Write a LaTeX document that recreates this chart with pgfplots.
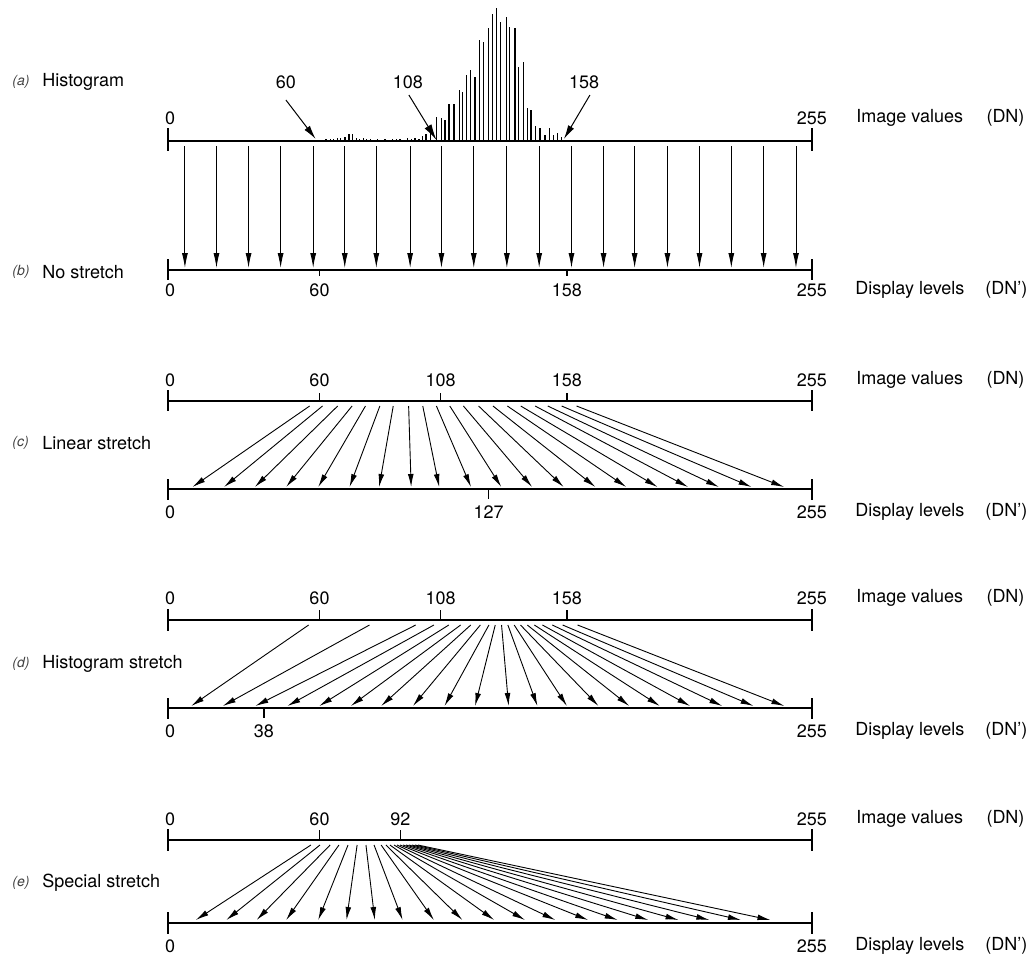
\documentclass[border=0pt]{standalone}
\usepackage{pgfplots}
\pgfplotsset{compat=1.18}
\usepackage{pgfplotstable}
\usetikzlibrary{arrows.meta}
\usepackage{fontspec}
\setmainfont{TeX Gyre Heros}
\begin{document}
% histogram: DN value, bar height (px)
\pgfplotstableread{
x h
58.5 1
59.9 1.5
61.3 1.5
62.6 2
64.2 2.5
65.5 2
67.1 3.5
68.4 3
70.1 4.5
71.7 7
73 7.5
74.5 3
75.8 2
77.4 3.5
78.7 2
80.3 2.5
81.6 1.5
82.9 2
84.6 1.5
85.9 2
87.3 1.5
89 2.5
90.6 2
91.9 2.5
93.5 1.5
94.8 3.5
96.5 2
97.8 3
99.4 2
100.9 5
102.2 7
104 9
106.4 24.3
108.4 22.7
109.7 21
111.3 36.7
113.3 36.7
115.4 51
116.6 48.7
118.3 66
119.9 71
121.6 64.3
123.3 101
124.9 99
126.9 112.7
128.6 127
130.2 133.3
131.8 119
133.9 124.3
135.4 114.3
137.4 113.3
138.7 74.3
140.7 79.3
142.3 33.3
143.8 31
145.7 15.3
147.3 13.3
149.3 6
151 13.3
152.6 6
154.3 7.7
155.9 4
}\histdata
% (b) no stretch
\pgfplotstableread{
xs xe
6.7 6.7
19.2 19.2
31.9 31.9
44.6 44.6
57.5 57.5
70 70
82.5 82.5
95.9 95.9
108.3 108.3
121.1 121.1
134.2 134.2
147 147
159.8 159.8
172.5 172.5
184.8 184.8
197.8 197.8
210.5 210.5
223.1 223.1
235.9 235.9
248.7 248.7
}\arrb
% (c) linear stretch
\pgfplotstableread{
xs xe
56.1 9.7
61.2 22.2
67.2 34.4
72.9 46.8
78.2 59.5
83.9 71.9
89.2 83.6
95.3 96.3
100.9 107.4
106.3 120
111.6 132
117 144.2
123 156.7
128.7 169.3
134.4 181.5
139.7 193.9
145.4 206
150.4 218.2
155.9 231.1
161.8 244
}\arrc
% (d) histogram stretch
\pgfplotstableread{
xs xe
55.7 9.2
79.8 21.7
98.1 34.6
105.3 47.3
111.2 59.9
115.9 72.4
119.9 84.4
123.7 97
127.1 109.5
129.6 121.6
132.1 134.9
134.6 146.3
137.1 158
139.6 170.5
142.3 182.7
145.1 194.8
148.3 206.8
152.2 219.5
156.3 231.9
162.2 244.1
}\arrd
% (e) special stretch
\pgfplotstableread{
xs xe
56.6 11
60.2 23.1
64.2 35.1
67.7 46.8
71.3 59.5
74.9 70.7
78.4 81.9
81.6 92.9
84.4 105.3
86.3 116.6
87.9 129.2
89.5 141.4
90.7 153.4
91.9 166.4
93.1 178.1
94.3 190.2
95.4 202.2
96.6 214.4
97.8 226.9
99 238.6
}\arre
\begin{tikzpicture}[
  lab/.style={font=\fontsize{9}{10}\selectfont, inner sep=0pt, text=black},
  pl/.style={font=\fontsize{7}{8}\selectfont\itshape, inner sep=0pt, text=black!75, anchor=west},
  ax/.style={black, line width=0.75pt},
  arr/.style={black, line width=0.45pt, -{Latex[length=6.5pt,width=2.9pt]}},
]
\begin{axis}[
  x=1.2625pt, y=0.5pt, y dir=reverse,
  xmin=-66.535, xmax=342.97, ymin=0, ymax=960,
  hide axis, clip=false, unbounded coords=jump,
]
% ---- histogram bars
\addplot[black, line width=0.6pt, quiver={u=0, v=-\thisrow{h}}] table[x=x, y expr=141] \histdata;
% ---- axis lines and end ticks
\addplot[ax] coordinates {
(0,141) (255,141) (nan,nan) (0,128) (0,151) (nan,nan) (255,128) (255,151) (nan,nan)
(0,270) (255,270) (nan,nan) (0,259) (0,280) (nan,nan) (255,259) (255,280) (nan,nan)
(0,401) (255,401) (nan,nan) (0,390) (0,411) (nan,nan) (255,390) (255,411) (nan,nan)
(0,489) (255,489) (nan,nan) (0,479) (0,500) (nan,nan) (255,479) (255,500) (nan,nan)
(0,620) (255,620) (nan,nan) (0,609) (0,631) (nan,nan) (255,609) (255,631) (nan,nan)
(0,708) (255,708) (nan,nan) (0,698) (0,719) (nan,nan) (255,698) (255,719) (nan,nan)
(0,840) (255,840) (nan,nan) (0,829) (0,851) (nan,nan) (255,829) (255,851) (nan,nan)
(0,923) (255,923) (nan,nan) (0,912) (0,934) (nan,nan) (255,912) (255,934)
};
% ---- inner ticks
\addplot[black, line width=0.6pt] coordinates {
(60,270) (60,276) (nan,nan) (158,270) (158,276) (nan,nan)
(60,401) (60,393) (nan,nan) (108,401) (108,393) (nan,nan) (158,401) (158,393) (nan,nan)
(127,489) (127,499) (nan,nan)
(60,620) (60,610) (nan,nan) (108,620) (108,610) (nan,nan) (158,620) (158,610) (nan,nan)
(38,708) (38,718) (nan,nan)
(60,840) (60,830) (nan,nan) (92,840) (92,830)
};
% ---- histogram pointers
\addplot[black, line width=0.5pt, -{Latex[length=7pt,width=3.4pt]}] coordinates {(46.7,100) (58.5,139)};
\addplot[black, line width=0.5pt, -{Latex[length=8pt,width=4pt]}] coordinates {(95.4,95) (106.3,140)};
\addplot[black, line width=0.5pt, -{Latex[length=7pt,width=3.4pt]}] coordinates {(167.1,95) (156.8,139)};
% ---- mapping arrows
\addplot[arr, -{Latex[length=7.5pt,width=3pt]}, quiver={u=\thisrow{xe}-\thisrow{xs}, v=122}] table[x=xs, y expr=146] \arrb;
\addplot[arr, quiver={u=\thisrow{xe}-\thisrow{xs}, v=81}] table[x=xs, y expr=406] \arrc;
\addplot[arr, quiver={u=\thisrow{xe}-\thisrow{xs}, v=81}] table[x=xs, y expr=625] \arrd;
\addplot[arr, quiver={u=\thisrow{xe}-\thisrow{xs}, v=75}] table[x=xs, y expr=845] \arre;
% ---- left panel labels
\node[pl] at (axis cs:-61.8,82) {(a)};
\node[lab, anchor=west] at (axis cs:-49.9,82) {Histogram};
\node[pl] at (axis cs:-61.8,272) {(b)};
\node[lab, anchor=west] at (axis cs:-49.9,272) {No stretch};
\node[pl] at (axis cs:-61.8,443) {(c)};
\node[lab, anchor=west] at (axis cs:-49.9,443) {Linear stretch};
\node[pl] at (axis cs:-61.8,664) {(d)};
\node[lab, anchor=west] at (axis cs:-49.9,664) {Histogram stretch};
\node[pl] at (axis cs:-61.8,883) {(e)};
\node[lab, anchor=west] at (axis cs:-49.9,883) {Special stretch};
% ---- (a) labels
\node[lab] at (axis cs:46.7,82) {60};
\node[lab] at (axis cs:95,82) {108};
\node[lab] at (axis cs:164.8,82) {158};
\node[lab] at (axis cs:0.8,118) {0};
\node[lab] at (axis cs:255,118) {255};
% ---- (b) labels
\node[lab] at (axis cs:0.8,290) {0};
\node[lab] at (axis cs:60,290) {60};
\node[lab] at (axis cs:158,290) {158};
\node[lab] at (axis cs:255,290) {255};
% ---- (c) labels
\node[lab] at (axis cs:0.8,380) {0};
\node[lab] at (axis cs:60,380) {60};
\node[lab] at (axis cs:108,380) {108};
\node[lab] at (axis cs:158,380) {158};
\node[lab] at (axis cs:255,380) {255};
\node[lab] at (axis cs:0.8,512) {0};
\node[lab] at (axis cs:127,512) {127};
\node[lab] at (axis cs:255,512) {255};
% ---- (d) labels
\node[lab] at (axis cs:0.8,598) {0};
\node[lab] at (axis cs:60,598) {60};
\node[lab] at (axis cs:108,598) {108};
\node[lab] at (axis cs:158,598) {158};
\node[lab] at (axis cs:255,598) {255};
\node[lab] at (axis cs:0.8,731) {0};
\node[lab] at (axis cs:38,731) {38};
\node[lab] at (axis cs:255,731) {255};
% ---- (e) labels
\node[lab] at (axis cs:0.8,819) {0};
\node[lab] at (axis cs:60,819) {60};
\node[lab] at (axis cs:92,819) {92};
\node[lab] at (axis cs:255,819) {255};
\node[lab] at (axis cs:0.8,946) {0};
\node[lab] at (axis cs:255,946) {255};
% ---- right labels
\node[lab, anchor=west] at (axis cs:272.5,118) {Image values};
\node[lab, anchor=west] at (axis cs:324,118) {(DN)};
\node[lab, anchor=west] at (axis cs:272.5,380) {Image values};
\node[lab, anchor=west] at (axis cs:324,380) {(DN)};
\node[lab, anchor=west] at (axis cs:272.5,598) {Image values};
\node[lab, anchor=west] at (axis cs:324,598) {(DN)};
\node[lab, anchor=west] at (axis cs:272.5,819) {Image values};
\node[lab, anchor=west] at (axis cs:324,819) {(DN)};
\node[lab, anchor=west] at (axis cs:272.1,290) {Display levels};
\node[lab, anchor=west] at (axis cs:323.6,290) {(DN’)};
\node[lab, anchor=west] at (axis cs:272.1,512) {Display levels};
\node[lab, anchor=west] at (axis cs:323.6,512) {(DN’)};
\node[lab, anchor=west] at (axis cs:272.1,731) {Display levels};
\node[lab, anchor=west] at (axis cs:323.6,731) {(DN’)};
\node[lab, anchor=west] at (axis cs:272.1,946) {Display levels};
\node[lab, anchor=west] at (axis cs:323.6,946) {(DN’)};
\end{axis}
\pgfresetboundingbox
\useasboundingbox (current axis.south west) rectangle (current axis.north east);
\end{tikzpicture}
\end{document}
